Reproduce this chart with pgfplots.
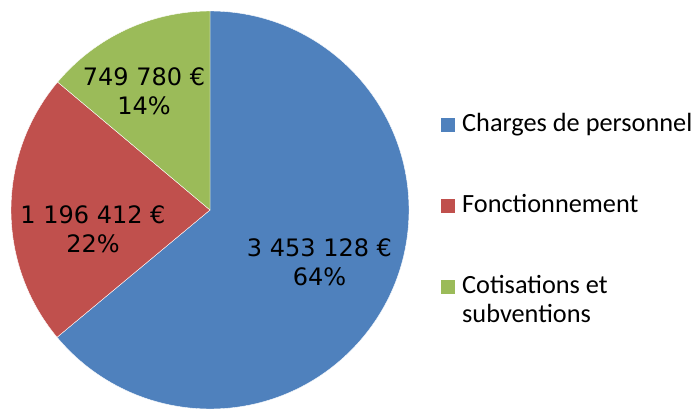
\documentclass[border=0pt]{standalone}
\usepackage{pgfplots}
\pgfplotsset{compat=1.18}
\usepackage{fontspec}
\setmainfont{Carlito}
\newfontfamily\lbl{DejaVu Sans}
\definecolor{cb}{HTML}{4F81BD}
\definecolor{cr}{HTML}{C0504D}
\definecolor{cg}{HTML}{9BBB59}
\begin{document}
\begin{tikzpicture}
% values in thousands of euros
\pgfmathsetmacro{\vA}{3453.128}
\pgfmathsetmacro{\vB}{1196.412}
\pgfmathsetmacro{\vC}{749.780}
\pgfmathsetmacro{\tot}{\vA+\vB+\vC}
\pgfmathsetmacro{\fA}{\vA/\tot}
\pgfmathsetmacro{\fB}{\vB/\tot}
\pgfmathsetmacro{\fC}{\vC/\tot}
\pgfmathsetmacro{\aA}{90-360*\fA}
\pgfmathsetmacro{\aB}{\aA-360*\fB}
\pgfmathsetmacro{\aC}{\aB-360*\fC}
\begin{axis}[width=699bp,height=410bp,scale only axis,
  xmin=0,xmax=699,ymin=0,ymax=410,hide axis,clip=false]
\fill[cb,draw=white,line width=0.4pt] (axis cs:210,200) -- ++(90:199bp) arc[start angle=90,end angle=\aA,radius=199bp] -- cycle;
\fill[cr,draw=white,line width=0.4pt] (axis cs:210,200) -- ++(\aA:199bp) arc[start angle=\aA,end angle=\aB,radius=199bp] -- cycle;
\fill[cg,draw=white,line width=0.4pt] (axis cs:210,200) -- ++(\aB:199bp) arc[start angle=\aB,end angle=\aC,radius=199bp] -- cycle;
\node[font=\lbl\fontsize{24bp}{29bp}\selectfont,align=center] at (axis cs:319.5,148) {3 453 128 €\\64\%};
\node[font=\lbl\fontsize{24bp}{29bp}\selectfont,align=center] at (axis cs:93,181) {1 196 412 €\\22\%};
\node[font=\lbl\fontsize{24bp}{29bp}\selectfont,align=center] at (axis cs:144,319) {749 780 €\\14\%};
% legend
\fill[cb] (axis cs:441,278) rectangle (axis cs:455,292);
\fill[cr] (axis cs:441,197) rectangle (axis cs:455,211);
\fill[cg] (axis cs:441,116) rectangle (axis cs:455,130);
\node[font=\fontsize{26.3bp}{29bp}\selectfont,anchor=base west,inner sep=0pt] at (axis cs:462,278) {Charges de personnel};
\node[font=\fontsize{26.3bp}{29bp}\selectfont,anchor=base west,inner sep=0pt] at (axis cs:462,197) {Fonctionnement};
\node[font=\fontsize{26.3bp}{29bp}\selectfont,anchor=base west,inner sep=0pt] at (axis cs:462,116) {Cotisations et};
\node[font=\fontsize{26.3bp}{29bp}\selectfont,anchor=base west,inner sep=0pt] at (axis cs:462,87) {subventions};
\end{axis}
\pgfresetboundingbox
\path (0,0) rectangle (699bp,410bp);
\end{tikzpicture}
\end{document}
